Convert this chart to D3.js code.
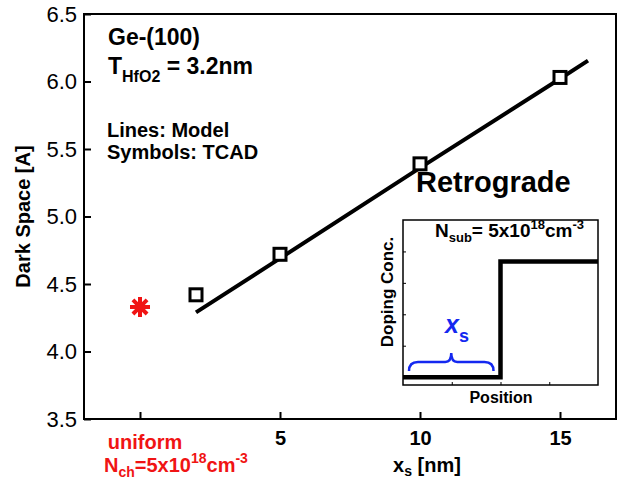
<!DOCTYPE html>
<html>
<head>
<meta charset="utf-8">
<script src="https://cdn.jsdelivr.net/npm/d3@7"></script>
<style>
  body { margin: 0; background: #fff; }
  text { font-family: "Liberation Sans", Arial, Helvetica, sans-serif; }
</style>
</head>
<body>
<svg id="chart" width="626" height="481"></svg>
<script>
// TCAD simulation results (symbols)
const tcadX = [2, 5, 10, 15];
const tcadY = [4.42, 4.72, 5.39, 6.03];
// Analytical model (line)
const modelX = [2, 5, 10, 15, 16];
const modelY = [4.29, 4.69, 5.36, 6.02, 6.155];
// Uniform channel doping reference point
const uniformX = [0];
const uniformY = [4.33];
// Axis ticks
const xTickValues = [0, 5, 10, 15];
const xTickLabels = ["", "5", "10", "15"];
const yTickValues = [3.5, 4.0, 4.5, 5.0, 5.5, 6.0, 6.5];
// Inset: retrograde doping profile (arbitrary units)
const profileX = [0, 2, 2, 4];
const profileY = [0, 0, 3.68, 3.68];
const insetXTicks = [1, 2, 3];
const insetYTicks = [1, 2, 3, 4];

const svg = d3.select("#chart");
const RED = "#f01414";
const BLUE = "#1428f0";

const x = d3.scaleLinear().domain([-2, 17]).range([84, 616]);
const y = d3.scaleLinear().domain([3.5, 6.5]).range([419, 14]);

// plot frame
svg.append("rect")
  .attr("x", x.range()[0]).attr("y", y.range()[1])
  .attr("width", x.range()[1] - x.range()[0])
  .attr("height", y.range()[0] - y.range()[1])
  .attr("fill", "none").attr("stroke", "#000").attr("stroke-width", 2);

// x axis
const xAxis = svg.append("g")
  .attr("transform", `translate(0,${y.range()[0]})`)
  .call(d3.axisBottom(x).tickValues(xTickValues)
    .tickFormat((d, i) => xTickLabels[i])
    .tickSizeInner(-7).tickSizeOuter(0).tickPadding(12));
xAxis.select(".domain").remove();
xAxis.selectAll(".tick line").attr("stroke-width", 2);
xAxis.selectAll(".tick text")
  .attr("font-size", 20).attr("font-weight", "bold")
  .attr("font-family", "Liberation Sans, Arial, sans-serif").attr("fill", "#000");

// y axis
const yAxis = svg.append("g")
  .attr("transform", `translate(${x.range()[0]},0)`)
  .call(d3.axisLeft(y).tickValues(yTickValues).tickFormat(d3.format(".1f"))
    .tickSizeInner(-7).tickSizeOuter(0).tickPadding(7));
yAxis.select(".domain").remove();
yAxis.selectAll(".tick line").attr("stroke-width", 2);
yAxis.selectAll(".tick text")
  .attr("font-size", 22)
  .attr("font-family", "Liberation Sans, Arial, sans-serif").attr("fill", "#000");

// axis titles
svg.append("text")
  .attr("transform", `translate(30,${(y.range()[0] + y.range()[1]) / 2}) rotate(-90)`)
  .attr("text-anchor", "middle").attr("font-size", 20).attr("font-weight", "bold")
  .text("Dark Space [A]");

const xt = svg.append("text")
  .attr("x", 427).attr("y", 472)
  .attr("text-anchor", "middle").attr("font-size", 20).attr("font-weight", "bold");
xt.append("tspan").text("x");
xt.append("tspan").attr("font-size", 14).attr("dy", 4).text("s");
xt.append("tspan").attr("dy", -4).text(" [nm]");

// uniform-doping label under x = 0
svg.append("text")
  .attr("x", x(0) + 5).attr("y", 449).attr("text-anchor", "middle")
  .attr("font-size", 20).attr("font-weight", "bold").attr("fill", RED)
  .text("uniform");
const un = svg.append("text")
  .attr("x", 104).attr("y", 472)
  .attr("font-size", 20).attr("font-weight", "bold").attr("fill", RED);
un.append("tspan").text("N");
un.append("tspan").attr("font-size", 14).attr("dy", 5).text("ch");
un.append("tspan").attr("dy", -5).text("=5x10");
un.append("tspan").attr("font-size", 14).attr("dy", -9).text("18");
un.append("tspan").attr("dy", 9).text("cm");
un.append("tspan").attr("font-size", 14).attr("dy", -9).text("-3");

// annotations
svg.append("text").attr("x", 108).attr("y", 45)
  .attr("font-size", 23).attr("font-weight", "bold").text("Ge-(100)");
const th = svg.append("text").attr("x", 108).attr("y", 74)
  .attr("font-size", 23).attr("font-weight", "bold");
th.append("tspan").text("T");
th.append("tspan").attr("font-size", 16).attr("dy", 8).text("HfO2");
th.append("tspan").attr("dy", -8).text(" = 3.2nm");
svg.append("text").attr("x", 107).attr("y", 137)
  .attr("font-size", 20).attr("font-weight", "bold").text("Lines: Model");
svg.append("text").attr("x", 107).attr("y", 159)
  .attr("font-size", 20).attr("font-weight", "bold").text("Symbols: TCAD");
svg.append("text").attr("x", 416).attr("y", 192)
  .attr("font-size", 29).attr("font-weight", "bold").text("Retrograde");

// model line
const model = modelX.map((d, i) => [d, modelY[i]]);
svg.append("path").datum(model)
  .attr("d", d3.line().x(d => x(d[0])).y(d => y(d[1])))
  .attr("fill", "none").attr("stroke", "#000").attr("stroke-width", 4);

// TCAD squares
svg.selectAll("rect.tcad").data(tcadX.map((d, i) => [d, tcadY[i]]))
  .join("rect").attr("class", "tcad")
  .attr("x", d => x(d[0]) - 6).attr("y", d => y(d[1]) - 6)
  .attr("width", 12).attr("height", 12)
  .attr("fill", "#fff").attr("stroke", "#000").attr("stroke-width", 3);

// uniform-doping point: eight-ray asterisk
const asterisk8 = {
  draw(ctx, size) {
    const r = Math.sqrt(size) / 2;
    for (let k = 0; k < 4; k++) {
      const a = k * Math.PI / 4;
      ctx.moveTo(-r * Math.cos(a), -r * Math.sin(a));
      ctx.lineTo(r * Math.cos(a), r * Math.sin(a));
    }
  }
};
svg.selectAll("path.uni").data(uniformX.map((d, i) => [d, uniformY[i]]))
  .join("path").attr("class", "uni")
  .attr("transform", d => `translate(${x(d[0])},${y(d[1])})`)
  .attr("d", d3.symbol().type(asterisk8).size(400))
  .attr("fill", "none").attr("stroke", RED).attr("stroke-width", 4);

// ---- inset: doping profile ----
const ix = d3.scaleLinear().domain([0, 4]).range([403, 598]);
const iy = d3.scaleLinear().domain([-0.25, 5]).range([385, 220]);
const inset = svg.append("g");
inset.append("rect")
  .attr("x", ix.range()[0]).attr("y", iy.range()[1])
  .attr("width", ix.range()[1] - ix.range()[0])
  .attr("height", iy.range()[0] - iy.range()[1])
  .attr("fill", "#fff").attr("stroke", "#000").attr("stroke-width", 1.5);
const ixAxis = inset.append("g").attr("transform", `translate(0,${iy.range()[0]})`)
  .call(d3.axisBottom(ix).tickValues(insetXTicks).tickFormat("").tickSizeInner(-3).tickSizeOuter(0));
ixAxis.select(".domain").remove();
const iyAxis = inset.append("g").attr("transform", `translate(${ix.range()[0]},0)`)
  .call(d3.axisLeft(iy).tickValues(insetYTicks).tickFormat("").tickSizeInner(-3).tickSizeOuter(0));
iyAxis.select(".domain").remove();

inset.append("path").datum(profileX.map((d, i) => [d, profileY[i]]))
  .attr("d", d3.line().x(d => ix(d[0])).y(d => iy(d[1])))
  .attr("fill", "none").attr("stroke", "#000").attr("stroke-width", 4.5);

inset.append("text")
  .attr("transform", `translate(393,292) rotate(-90)`)
  .attr("text-anchor", "middle").attr("font-size", 17).attr("font-weight", "bold")
  .text("Doping Conc.");
inset.append("text").attr("x", 501).attr("y", 403).attr("text-anchor", "middle")
  .attr("font-size", 16).attr("font-weight", "bold").text("Position");

const ns = inset.append("text").attr("x", 435).attr("y", 237)
  .attr("font-size", 19).attr("font-weight", "bold");
ns.append("tspan").text("N");
ns.append("tspan").attr("font-size", 13).attr("dy", 5).text("sub");
ns.append("tspan").attr("dy", -5).text("= 5x10");
ns.append("tspan").attr("font-size", 13).attr("dy", -8).text("18");
ns.append("tspan").attr("dy", 8).text("cm");
ns.append("tspan").attr("font-size", 13).attr("dy", -8).text("-3");

// brace spanning the low-doped surface layer
const bx0 = ix(0) + 6, bx1 = ix(2) - 7, bm = (bx0 + bx1) / 2, by = 362;
inset.append("path")
  .attr("d", `M${bx0},${by + 9} Q${bx0},${by} ${bx0 + 9},${by} L${bm - 6},${by} Q${bm},${by} ${bm},${by - 9} Q${bm},${by} ${bm + 6},${by} L${bx1 - 9},${by} Q${bx1},${by} ${bx1},${by + 9}`)
  .attr("fill", "none").attr("stroke", BLUE).attr("stroke-width", 2.5);
const xs = inset.append("text").attr("x", 445).attr("y", 333)
  .attr("font-size", 25).attr("font-weight", "bold").attr("font-style", "italic").attr("fill", BLUE);
xs.append("tspan").text("x");
xs.append("tspan").attr("font-size", 18).attr("dy", 9).attr("font-style", "normal").text("s");
</script>
</body>
</html>
